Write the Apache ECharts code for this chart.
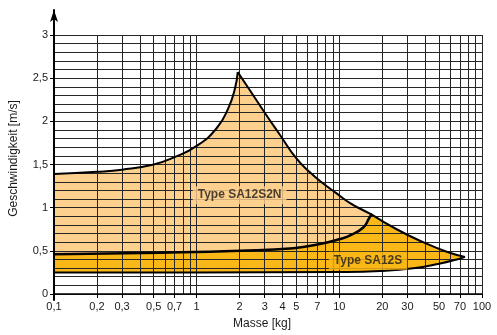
<!DOCTYPE html>
<html>
<head>
<meta charset="utf-8">
<script src="https://cdn.jsdelivr.net/npm/echarts@6/dist/echarts.min.js"></script>
<style>html,body{margin:0;padding:0;background:#fff}#c{width:497px;height:335px}</style>
</head>
<body>
<div id="c"></div>
<script>
// ---- data (mass in kg, speed in m/s) ----
const xTickLabels = [0.1, 0.2, 0.3, 0.5, 0.7, 1, 2, 3, 4, 5, 7, 10, 20, 30, 50, 70, 100];
const xGridValues = [0.1,0.2,0.3,0.4,0.5,0.6,0.7,0.8,0.9,1,2,3,4,5,6,7,8,9,10,20,30,40,50,60,70,80,90,100];
const yMin = 0, yMax = 3, yStep = 0.5;

// SA12S2N rising boundary (left part up to the peak)
const s2nRise = [[0.1,1.39],[0.2,1.415],[0.3,1.44],[0.5,1.50],[0.7,1.585],[1,1.715],[1.38,1.92],[1.665,2.15],[1.855,2.38],[1.94,2.57]];
// common falling boundary (peak -> right tip)
const fallHigh = [[1.94,2.57],[2.36,2.36],[3.0,2.10],[3.83,1.845],[5,1.57],[6.22,1.41],[7.71,1.28],[9.57,1.166],[11.9,1.052],[14.7,0.97],[16.9,0.92]];
const fallLow = [[16.9,0.92],[25.2,0.75],[38.7,0.60],[56.5,0.49],[76,0.43]];
// SA12S upper and lower boundary
const s12sTop = [[0.1,0.46],[0.55,0.478],[2,0.50],[4.76,0.53],[7.3,0.58],[10.1,0.637],[11.8,0.675],[14.7,0.77],[16.2,0.88],[16.9,0.93]];
const s12sBottom = [[0.1,0.25],[1,0.25],[10,0.255],[19.3,0.266],[33,0.297],[51,0.354],[66.6,0.40],[76,0.43]];
// left edge of the areas
const leftEdge = [[0.1,0.25],[0.1,1.39]];

const labelSA12S2N = {name: 'Type SA12S2N', mass: 2.0, speed: 1.145};
const labelSA12S = {name: 'Type SA12S', mass: 15.9, speed: 0.385};

// ---- build ----
const lg = v => Math.log10(v);
const tx = arr => arr.map(p => [lg(p[0]), p[1]]);
const fmtMass = v => {
  const m = Math.pow(10, v);
  const r = m < 1 ? Math.round(m * 10) / 10 : Math.round(m);
  return String(r).replace('.', ',');
};
const LIGHT = '#FED08E', YELLOW = '#FAB818', GRIDC = '#262626';

function fill(data, color, z) {
  return {type: 'line', data: tx(data), smooth: 0.5, symbol: 'none', z: z,
    lineStyle: {width: 0, opacity: 0}, areaStyle: {color: color, opacity: 1}, silent: true, animation: false};
}
function outline(data, w) {
  return {type: 'line', data: tx(data), smooth: 0.5, symbol: 'none', z: 6,
    lineStyle: {width: w, color: '#000'}, silent: true, animation: false};
}
function label(l, bg) {
  return {type: 'scatter', z: 8, symbol: 'circle', symbolSize: 2, itemStyle: {color: 'rgba(0,0,0,0)'}, animation: false,
    data: [{name: l.name, value: [lg(l.mass), l.speed]}],
    label: {show: true, position: 'inside', formatter: '{b}', color: '#1a1a1a', fontWeight: 'bold',
      fontSize: 12, backgroundColor: bg, padding: [3, 5, 3, 5]}};
}

const chart = echarts.init(document.getElementById('c'), null, {renderer: 'canvas'});
chart.setOption({
  animation: false,
  textStyle: {fontFamily: 'Liberation Sans, Arial, sans-serif'},
  grid: [
    {left: 54, right: 15, top: 35, bottom: 35},
    {left: 54, right: 15, top: 10, bottom: 35}
  ],
  xAxis: [
    {type: 'value', gridIndex: 0, min: lg(0.1), max: lg(100), z: 3,
      name: 'Masse [kg]', nameLocation: 'middle', nameGap: 24,
      nameTextStyle: {fontSize: 12, color: '#1a1a1a', padding: [0, 12, 0, 0]},
      axisLine: {show: true, onZero: false, lineStyle: {color: '#000', width: 1.5}},
      axisTick: {show: true, length: 4, customValues: xTickLabels.map(lg), lineStyle: {color: '#000'}},
      axisLabel: {customValues: xTickLabels.map(lg), formatter: fmtMass, fontSize: 11, color: '#1a1a1a', margin: 7},
      splitLine: {show: false}},
    {type: 'value', gridIndex: 0, position: 'bottom', min: lg(0.1), max: lg(100), z: 3,
      axisLine: {show: false, onZero: false},
      axisTick: {show: false, customValues: xGridValues.map(lg)},
      axisLabel: {show: false},
      splitLine: {show: true, lineStyle: {color: GRIDC, width: 1}}},
    {type: 'value', gridIndex: 1, min: 0, max: 1, show: false}
  ],
  yAxis: [
    {type: 'value', gridIndex: 0, min: yMin, max: yMax, interval: yStep, z: 3,
      name: 'Geschwindigkeit [m/s]', nameLocation: 'middle', nameGap: 34,
      nameTextStyle: {fontSize: 12, color: '#1a1a1a', padding: [0, 0, 0, 12]},
      axisLine: {show: true, onZero: false, lineStyle: {color: '#000', width: 2}},
      axisTick: {show: true, length: 4, lineStyle: {color: '#000'}},
      axisLabel: {formatter: v => String(v).replace('.', ','), fontSize: 11, color: '#1a1a1a', margin: 6},
      splitLine: {show: true, lineStyle: {color: GRIDC, width: 1}},
      minorTick: {show: false, splitNumber: 5},
      minorSplitLine: {show: true, lineStyle: {color: GRIDC, width: 1}}},
    {type: 'value', gridIndex: 1, min: 0, max: 1, z: 3,
      axisLine: {show: true, onZero: false, symbol: ['none', 'arrow'], symbolSize: [6, 12], lineStyle: {color: '#000', width: 2}},
      axisTick: {show: false}, axisLabel: {show: false}, splitLine: {show: false}}
  ],
  series: [
    fill(s2nRise, LIGHT, 1),
    fill(fallHigh, LIGHT, 1),
    fill(s12sTop, YELLOW, 1),
    fill(fallLow, YELLOW, 1),
    fill(s12sBottom, '#ffffff', 1),
    outline(s2nRise, 2),
    outline(fallHigh, 2),
    outline(fallLow, 2),
    outline(s12sTop, 2.5),
    outline(s12sBottom, 2),
    outline(leftEdge, 2),
    label(labelSA12S2N, LIGHT),
    label(labelSA12S, YELLOW)
  ]
});
</script>
</body>
</html>
